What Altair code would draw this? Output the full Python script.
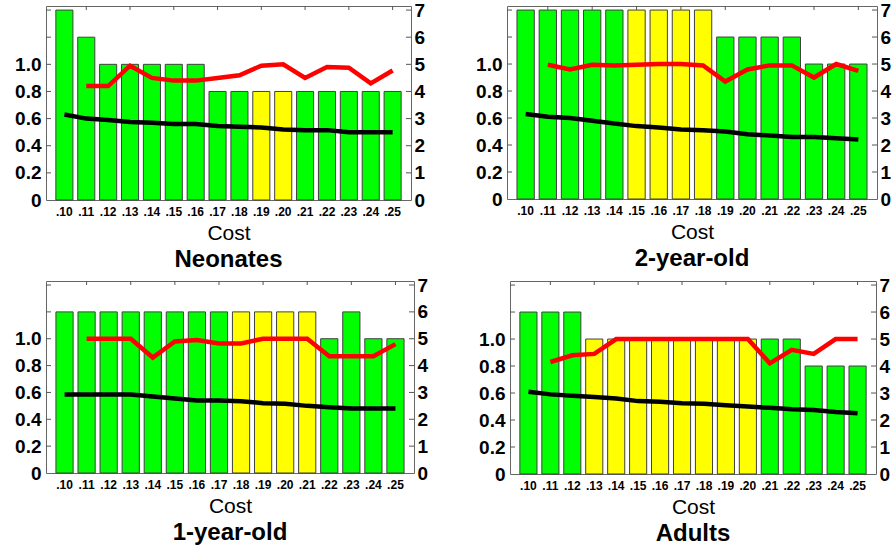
import altair as alt
import pandas as pd

# Cost levels shared by all four panels
costs = [".10", ".11", ".12", ".13", ".14", ".15", ".16", ".17",
         ".18", ".19", ".20", ".21", ".22", ".23", ".24", ".25"]

# Bar heights (right axis) and bar class: g = green, y = yellow
neo_bars = [7, 6, 5, 5, 5, 5, 5, 4, 4, 4, 4, 4, 4, 4, 4, 4]
neo_cls = ["g"] * 9 + ["y"] * 2 + ["g"] * 5
two_bars = [7] * 9 + [6] * 4 + [5] * 3
two_cls = ["g"] * 5 + ["y"] * 4 + ["g"] * 7
one_bars = [6] * 12 + [5, 6, 5, 5]
one_cls = ["g"] * 8 + ["y"] * 4 + ["g"] * 4
adu_bars = [6] * 3 + [5] * 10 + [4] * 3
adu_cls = ["g"] * 3 + ["y"] * 8 + ["g"] * 5

# Red series (left axis), from .11 to .25
neo_red = [0.84, 0.84, 0.99, 0.90, 0.88, 0.88, 0.90, 0.92, 0.99, 1.00, 0.90, 0.98, 0.975, 0.86, 0.955]
two_red = [0.995, 0.96, 0.995, 0.99, 0.995, 1.00, 1.00, 0.99, 0.87, 0.96, 0.99, 0.99, 0.90, 1.00, 0.95]
one_red = [1.00, 1.00, 1.00, 0.86, 0.98, 0.99, 0.965, 0.965, 1.00, 1.00, 1.00, 0.87, 0.87, 0.87, 0.96]
adu_red = [0.83, 0.88, 0.89, 1.00, 1.00, 1.00, 1.00, 1.00, 1.00, 1.00, 0.82, 0.92, 0.89, 1.00, 1.00]

# Black series (left axis), from .10 to .25
neo_black = [0.63, 0.60, 0.59, 0.575, 0.57, 0.56, 0.56, 0.545, 0.54, 0.535, 0.52, 0.515, 0.515, 0.50, 0.50, 0.50]
two_black = [0.63, 0.61, 0.60, 0.58, 0.56, 0.54, 0.53, 0.515, 0.51, 0.50, 0.48, 0.47, 0.46, 0.46, 0.45, 0.44]
one_black = [0.585, 0.585, 0.585, 0.585, 0.57, 0.555, 0.54, 0.54, 0.535, 0.52, 0.515, 0.50, 0.49, 0.48, 0.48, 0.48]
adu_black = [0.61, 0.59, 0.58, 0.57, 0.56, 0.54, 0.535, 0.525, 0.52, 0.51, 0.50, 0.49, 0.48, 0.475, 0.46, 0.45]

left_labels = [0, 0.2, 0.4, 0.6, 0.8, 1.0]
left_ticks = [0.2, 0.4, 0.6, 0.8, 1.0, 1.2, 1.4]
right_ticks = [1, 2, 3, 4, 5, 6, 7]
top_ticks = costs[1::2]

FONT = "Liberation Sans"
RIGHT_MAX = 7.15
LEFT_MAX = RIGHT_MAX / 5.0


def panel(title, bars, cls, red, black, width, height):
    xs = alt.Scale(domain=costs, paddingInner=0.22, paddingOuter=0.45)
    x_axis = alt.Axis(title="Cost", labelAngle=0, ticks=False, domain=False,
                      labelFont=FONT, labelFontSize=12, labelFontWeight="bold",
                      labelColor="black", labelPadding=6,
                      titleFont=FONT, titleFontSize=21, titleFontWeight="normal",
                      titleColor="black", titlePadding=5)
    left_axis = alt.Axis(
        orient="left", values=left_labels, ticks=False, domain=False,
        grid=False, title=None, labelFont=FONT, labelFontSize=19,
        labelFontWeight="bold", labelColor="black", labelPadding=5,
        labelExpr="datum.value == 0 ? '0' : format(datum.value, '.1f')")
    right_axis = alt.Axis(
        orient="right", values=list(range(8)), format="d", ticks=False,
        domain=False, grid=False, title=None, labelFont=FONT,
        labelFontSize=19, labelFontWeight="bold", labelColor="black",
        labelPadding=3)
    ls = alt.Scale(domain=[0, LEFT_MAX], nice=False, zero=True)
    rs = alt.Scale(domain=[0, RIGHT_MAX], nice=False, zero=True)
    X = lambda: alt.X("cost:N", sort=costs, scale=xs, axis=x_axis)

    bar_df = pd.DataFrame({"cost": costs, "n": bars, "cls": cls})
    red_df = pd.DataFrame({"cost": costs[1:], "v": red})
    blk_df = pd.DataFrame({"cost": costs, "v": black})

    bar_layer = alt.Chart(bar_df).mark_bar(stroke="#404040", strokeWidth=1).encode(
        x=X(),
        y=alt.Y("n:Q", scale=rs, axis=right_axis),
        color=alt.Color("cls:N", scale=alt.Scale(domain=["g", "y"],
                        range=["#00ff00", "#ffff00"]), legend=None),
    )
    rticks = alt.Chart(pd.DataFrame({"t": right_ticks})).mark_rule(
        color="#555", strokeWidth=1).encode(
        y=alt.Y("t:Q", scale=rs, axis=right_axis),
        x=alt.value(width - 5), x2=alt.value(width))
    tticks = alt.Chart(pd.DataFrame({"cost": top_ticks})).mark_rule(
        color="#555", strokeWidth=1).encode(
        x=X(),
        y=alt.value(0), y2=alt.value(4))
    right_group = alt.layer(bar_layer, rticks, tticks)

    red_layer = alt.Chart(red_df).mark_line(color="#ff0000", strokeWidth=4.5).encode(
        x=X(),
        y=alt.Y("v:Q", scale=ls, axis=left_axis),
    )
    blk_layer = alt.Chart(blk_df).mark_line(color="#000000", strokeWidth=4.5).encode(
        x=X(),
        y=alt.Y("v:Q", scale=ls, axis=left_axis),
    )
    lticks = alt.Chart(pd.DataFrame({"t": left_ticks})).mark_rule(
        color="#555", strokeWidth=1).encode(
        y=alt.Y("t:Q", scale=ls, axis=left_axis),
        x=alt.value(0), x2=alt.value(5))
    left_group = alt.layer(red_layer, blk_layer, lticks)

    return alt.layer(right_group, left_group).resolve_scale(y="independent").properties(
        width=width, height=height,
        title=alt.TitleParams(text=title, orient="bottom", font=FONT, fontSize=24,
                              fontWeight="bold", color="black", offset=5),
    )


row1 = alt.hconcat(
    panel("Neonates", neo_bars, neo_cls, neo_red, neo_black, 365, 194),
    panel("2-year-old", two_bars, two_cls, two_red, two_black, 370, 193),
    spacing=49,
)
row2 = alt.hconcat(
    panel("1-year-old", one_bars, one_cls, one_red, one_black, 368, 192),
    panel("Adults", adu_bars, adu_cls, adu_red, adu_black, 366, 193),
    spacing=49,
)

chart = alt.vconcat(row1, row2, spacing=2).properties(
    padding={"left": 14, "top": 0, "right": 0, "bottom": 0},
    background="white",
).configure_view(stroke="#666", strokeWidth=1)

chart.save("out.html", embed_options={"renderer": "svg", "actions": False})
